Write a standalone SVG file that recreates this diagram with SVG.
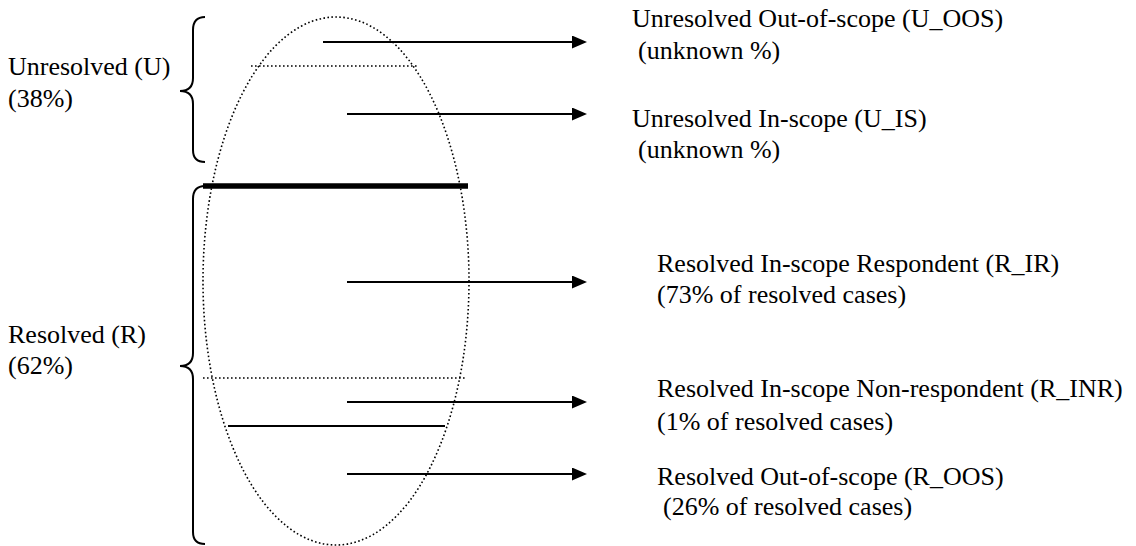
<svg xmlns="http://www.w3.org/2000/svg" width="1136" height="546" viewBox="0 0 1136 546">
<style>
text{font-family:"Liberation Serif",serif;font-size:26px;fill:#000}
.dot{fill:none;stroke:#000;stroke-width:1.6;stroke-dasharray:1.6 2.4}
.brace{fill:none;stroke:#000;stroke-width:2}
.arr{stroke:#000;stroke-width:2;marker-end:url(#ah)}
</style>
<defs>
<marker id="ah" viewBox="0 0 15 13" refX="8" refY="6.5" markerWidth="15" markerHeight="13" markerUnits="userSpaceOnUse" orient="auto">
<path d="M0,0 L15,6.5 L0,13 z" fill="#000"/>
</marker>
</defs>
<rect width="1136" height="546" fill="#fff"/>
<g id="ellipse">
<ellipse class="dot" cx="336" cy="281" rx="133" ry="264"/>
<line class="dot" x1="251" y1="66" x2="417" y2="66"/>
<line class="dot" x1="203" y1="378" x2="465" y2="378"/>
<line x1="203" y1="186" x2="468" y2="186" stroke="#000" stroke-width="5.5"/>
<line x1="228" y1="426" x2="445" y2="426" stroke="#000" stroke-width="2"/>
</g>
<g id="brace-unresolved">
<path class="brace" d="M205,17 C197,17 193,21 193,30 L193,78 C193,87 189,91 180,91 C189,91 193,95 193,104 L193,150 C193,158 197,162 205,162"/>
<text x="8" y="75">Unresolved (U)</text>
<text x="8" y="107">(38%)</text>
</g>
<g id="brace-resolved">
<path class="brace" d="M205,186 C197,186 193,190 193,199 L193,353 C193,362 189,366 180,366 C189,366 193,370 193,379 L193,532 C193,540 197,544 205,544"/>
<text x="8" y="343">Resolved (R)</text>
<text x="8" y="374">(62%)</text>
</g>
<g id="connectors">
<line class="arr" x1="323" y1="42" x2="580" y2="42"/>
<line class="arr" x1="347" y1="114" x2="580" y2="114"/>
<line class="arr" x1="347" y1="282" x2="580" y2="282"/>
<line class="arr" x1="347" y1="402" x2="580" y2="402"/>
<line class="arr" x1="347" y1="474" x2="580" y2="474"/>
</g>
<g id="u-oos">
<text x="632" y="27">Unresolved Out-of-scope (U_OOS)</text>
<text x="638" y="59">(unknown %)</text>
</g>
<g id="u-is">
<text x="632" y="127">Unresolved In-scope (U_IS)</text>
<text x="638" y="158">(unknown %)</text>
</g>
<g id="r-ir">
<text x="657" y="272">Resolved In-scope Respondent (R_IR)</text>
<text x="657" y="303">(73% of resolved cases)</text>
</g>
<g id="r-inr">
<text x="657" y="397">Resolved In-scope Non-respondent (R_INR)</text>
<text x="657" y="430">(1% of resolved cases)</text>
</g>
<g id="r-oos">
<text x="657" y="485">Resolved Out-of-scope (R_OOS)</text>
<text x="663" y="515">(26% of resolved cases)</text>
</g>
</svg>
